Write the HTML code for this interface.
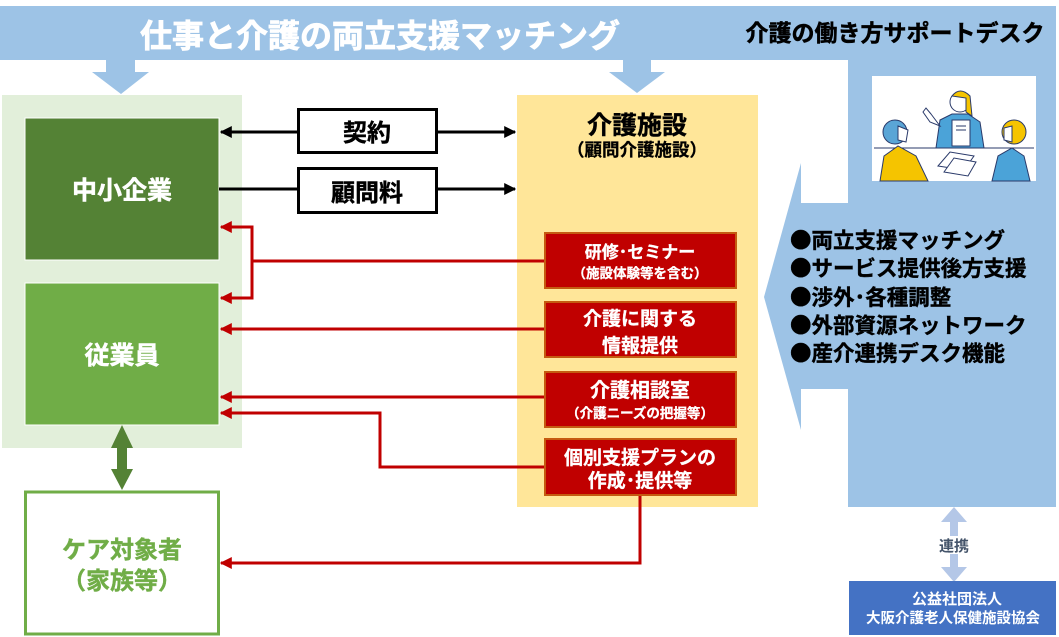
<!DOCTYPE html>
<html><head><meta charset="utf-8">
<style>
html,body{margin:0;padding:0;background:#fff;}
svg{display:block;}
text{font-family:"Liberation Sans","Noto Sans CJK JP",sans-serif;font-weight:bold;}
</style></head>
<body>
<svg width="1059" height="637" viewBox="0 0 1059 637" xmlns="http://www.w3.org/2000/svg">
<defs>
<marker id="ab" viewBox="0 0 10 10" refX="9" refY="5" markerWidth="4" markerHeight="4" orient="auto-start-reverse"><path d="M0,0 L10,5 L0,10 z" fill="#000"/></marker>
<marker id="ar" viewBox="0 0 10 10" refX="9" refY="5" markerWidth="4" markerHeight="4" orient="auto-start-reverse"><path d="M0,0 L10,5 L0,10 z" fill="#c00000"/></marker>
</defs>

<!-- Blue banner + right column + arrows -->
<g fill="#9dc3e6">
<rect x="0" y="6" width="1056" height="54"/>
<rect x="848" y="6" width="208" height="501"/>
<polygon points="850,203 801,203 801,163 764,297 801,430 801,389 850,389"/>
<polygon points="106,59 135,59 135,72 149,72 121,94 92,72 106,72"/>
<polygon points="623,59 651,59 651,72 665,72 637,93 609,72 623,72"/>
</g>
<text x="380" y="47" font-size="32" fill="#fff" stroke="#fff" stroke-width="0.8" text-anchor="middle">仕事と介護の両立支援マッチング</text>
<text x="895" y="41" font-size="23" fill="#000" stroke="#000" stroke-width="0.5" text-anchor="middle">介護の働き方サポートデスク</text>

<!-- Illustration -->
<rect x="872" y="76" width="164" height="105" fill="#fff"/>
<g stroke="#2a3a6a" stroke-width="1">
<line x1="874" y1="148" x2="1034" y2="148"/>
<path d="M936,148 L940,120 L952,114 L968,114 L980,122 L984,148 Z" fill="#4ba3d8"/>
<path d="M931,114 L926,108 L923,112 L930,122 L940,126 Z" fill="#fff"/>
<circle cx="960" cy="102" r="10" fill="#fff"/>
<path d="M952,96 Q960,86 970,96 L972,116 L966,112 L966,98 Z" fill="#f5c400"/>
<rect x="952" y="120" width="18" height="26" fill="#fff"/>
<line x1="956" y1="126" x2="966" y2="126"/><line x1="956" y1="130" x2="966" y2="130"/>
<path d="M880,181 L884,156 L898,146 L916,156 L928,181 Z" fill="#f5c400"/>
<circle cx="895" cy="132" r="12" fill="#5aa5d6"/>
<path d="M898,126 L908,130 L906,142 L898,140 Z" fill="#fff"/>
<path d="M992,181 L998,156 L1012,148 L1024,156 L1030,181 Z" fill="#4ba3d8"/>
<circle cx="1014" cy="132" r="12" fill="#f5c400"/>
<path d="M1004,128 L1012,126 L1012,142 L1004,140 Z" fill="#fff"/>
<polygon points="938,166 950,152 974,156 964,170" fill="#fff"/>
<polygon points="944,172 954,158 976,162 968,176" fill="#fff"/>
</g>

<!-- Bullets -->
<g font-size="21.5" fill="#000" stroke="#000" stroke-width="0.4">
<text x="790" y="248"><tspan font-family="Noto Sans CJK JP">●</tspan>両立支援マッチング</text>
<text x="790" y="276"><tspan font-family="Noto Sans CJK JP">●</tspan>サービス提供後方支援</text>
<text x="790" y="305"><tspan font-family="Noto Sans CJK JP">●</tspan>渉外･各種調整</text>
<text x="790" y="333"><tspan font-family="Noto Sans CJK JP">●</tspan>外部資源ネットワーク</text>
<text x="790" y="361"><tspan font-family="Noto Sans CJK JP">●</tspan>産介連携デスク機能</text>
</g>

<!-- 連携 arrow -->
<polygon points="954,507 967,522 958,522 958,567 967,567 954,582 941,567 950,567 950,522 941,522" fill="#b4c7e7"/>
<rect x="936" y="536" width="36" height="18" fill="#fff"/>
<text x="954" y="551" font-size="15" fill="#44546a" text-anchor="middle">連携</text>

<!-- Blue bottom box -->
<rect x="849" y="581" width="207" height="54" fill="#4472c4"/>
<text x="957" y="604" font-size="15" fill="#fff" text-anchor="middle">公益社団法人</text>
<text x="953" y="623" font-size="14.5" fill="#fff" text-anchor="middle">大阪介護老人保健施設協会</text>

<!-- Left panel -->
<rect x="2" y="95" width="240" height="353" fill="#e2efda"/>
<rect x="25" y="118" width="194" height="142" fill="#548235" stroke="#fff" stroke-width="1"/>
<text x="122" y="199" font-size="25" fill="#fff" stroke="#fff" stroke-width="0.5" text-anchor="middle">中小企業</text>
<rect x="25" y="283" width="194" height="142" fill="#70ad47" stroke="#fff" stroke-width="1"/>
<text x="122" y="364" font-size="25" fill="#fff" stroke="#fff" stroke-width="0.5" text-anchor="middle">従業員</text>

<polygon points="122,425 133,448 127,448 127,469 133,469 122,490 111,469 117,469 117,448 111,448" fill="#548235"/>

<rect x="25.5" y="492" width="193" height="142" fill="#fff" stroke="#70ad47" stroke-width="3"/>
<text x="122" y="558" font-size="24" fill="#70ad47" stroke="#70ad47" stroke-width="0.4" text-anchor="middle">ケア対象者</text>
<text x="122" y="589" font-size="24" fill="#70ad47" stroke="#70ad47" stroke-width="0.4" text-anchor="middle">（家族等）</text>

<!-- Yellow panel -->
<rect x="517" y="95" width="241" height="412" fill="#ffe699"/>
<text x="637" y="134" font-size="25" fill="#000" stroke="#000" stroke-width="0.4" text-anchor="middle">介護施設</text>
<text x="637" y="156" font-size="17.5" fill="#000" stroke="#000" stroke-width="0.3" text-anchor="middle">（顧問介護施設）</text>

<!-- Contract boxes -->
<rect x="298.5" y="109.5" width="138" height="43" fill="#fff" stroke="#000" stroke-width="3"/>
<text x="367" y="141" font-size="24" fill="#000" stroke="#000" stroke-width="0.4" text-anchor="middle">契約</text>
<rect x="298.5" y="168.5" width="138" height="44" fill="#fff" stroke="#000" stroke-width="3"/>
<text x="367" y="201" font-size="24" fill="#000" stroke="#000" stroke-width="0.4" text-anchor="middle">顧問料</text>
<g stroke="#000" stroke-width="3" fill="none">
<line x1="297" y1="132" x2="221" y2="132" marker-end="url(#ab)"/>
<line x1="438" y1="132" x2="515" y2="132" marker-end="url(#ab)"/>
<line x1="219" y1="189" x2="297" y2="189"/>
<line x1="438" y1="189" x2="515" y2="189" marker-end="url(#ab)"/>
</g>

<!-- Red lines -->
<g stroke="#c00000" stroke-width="3" fill="none">
<line x1="545" y1="261" x2="252" y2="261"/>
<polyline points="221,227 252,227 252,298 221,298" marker-start="url(#ar)" marker-end="url(#ar)"/>
<line x1="545" y1="329" x2="221" y2="329" marker-end="url(#ar)"/>
<line x1="545" y1="397" x2="221" y2="397" marker-end="url(#ar)"/>
<polyline points="545,467 380,467 380,413 221,413" marker-end="url(#ar)"/>
<polyline points="640,495 640,563 221,563" marker-end="url(#ar)"/>
</g>

<!-- Red boxes -->
<g fill="#c00000" stroke="#c55a11" stroke-width="2">
<rect x="545" y="233" width="191" height="55"/>
<rect x="545" y="302" width="191" height="55"/>
<rect x="545" y="372" width="191" height="55"/>
<rect x="545" y="439" width="191" height="56"/>
</g>
<g fill="#fff" stroke="#fff" stroke-width="0.3" text-anchor="middle">
<text x="640" y="258" font-size="17">研修･セミナー</text>
<text x="640" y="278" font-size="13.5">（施設体験等を含む）</text>
<text x="640" y="325" font-size="19">介護に関する</text>
<text x="640" y="352" font-size="19">情報提供</text>
<text x="640" y="397" font-size="20">介護相談室</text>
<text x="640" y="418" font-size="13.5">（介護ニーズの把握等）</text>
<text x="640" y="464" font-size="19">個別支援プランの</text>
<text x="640" y="487" font-size="19">作成･提供等</text>
</g>
</svg>
</body></html>
